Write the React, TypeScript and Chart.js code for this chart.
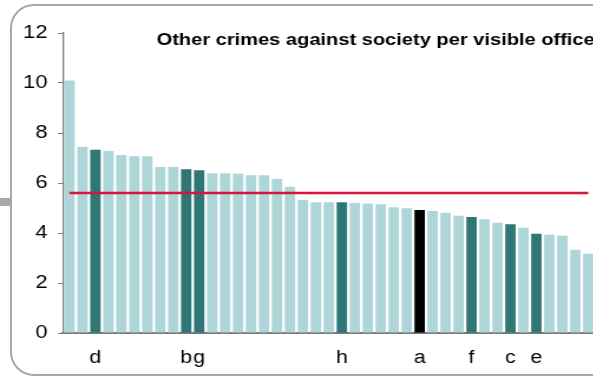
import React, { useEffect, useRef } from "react";
import { Chart, registerables } from "chart.js";

Chart.register(...registerables);

// ---- data ----
const CATEGORIES = [
  "", "", "d", "", "", "", "", "", "", "b", "g", "", "", "", "", "", "", "", "", "", "",
  "h", "", "", "", "", "", "a", "", "", "", "f", "", "", "c", "", "e", "", "", "", "",
];
const VALUES = [
  10.1, 7.44, 7.33, 7.28, 7.12, 7.07, 7.07, 6.64, 6.64, 6.55, 6.51, 6.39, 6.39, 6.37,
  6.31, 6.31, 6.16, 5.85, 5.33, 5.23, 5.23, 5.23, 5.2, 5.18, 5.15, 5.03, 4.99, 4.92,
  4.88, 4.81, 4.69, 4.64, 4.55, 4.41, 4.35, 4.21, 3.97, 3.93, 3.89, 3.33, 3.17,
];
const AVERAGE = 5.6;
const SELECTED = "a";
const Y_TICKS = [0, 2, 4, 6, 8, 10, 12];
const TITLE = "Other crimes against society per visible office";

// ---- style ----
const LIGHT = "#aed5d8";
const DARK = "#2f7777";
const BLACK = "#000000";
const RED = "#d4173d";
const AXIS = "#7a7a7a";
const FONT = "'Liberation Sans', Arial, Helvetica, sans-serif";
const SX = 1.18; // horizontal stretch of the original picture
const CW = 504; // canvas width before stretch
const CH = 376;

export default function App() {
  const ref = useRef<HTMLCanvasElement | null>(null);

  useEffect(() => {
    if (!ref.current) return;
    const colors = CATEGORIES.map((c) =>
      c === SELECTED ? BLACK : c ? DARK : LIGHT
    );
    const chart = new Chart(ref.current, {
      type: "bar",
      data: {
        labels: CATEGORIES,
        datasets: [
          {
            type: "line",
            data: CATEGORIES.map(() => AVERAGE),
            borderColor: RED,
            borderWidth: 2.5,
            pointRadius: 0,
            fill: false,
            order: 0,
          } as any,
          {
            type: "bar",
            data: VALUES,
            backgroundColor: colors,
            borderWidth: 0,
            barPercentage: 0.8,
            categoryPercentage: 1,
            order: 1,
          },
        ],
      },
      options: {
        animation: false,
        responsive: false,
        devicePixelRatio: 1,
        layout: { padding: 0 },
        plugins: {
          legend: { display: false },
          tooltip: { enabled: false },
          title: {
            display: true,
            text: TITLE,
            align: "end",
            color: "#000",
            font: { family: FONT, size: 17, weight: "bold" },
            padding: { top: 29.8, bottom: -17.2 },
          },
        },
        scales: {
          x: {
            type: "category",
            offset: true,
            grid: { display: false, drawTicks: false },
            border: { display: true, color: AXIS, width: 2 },
            ticks: {
              autoSkip: false,
              maxRotation: 0,
              minRotation: 0,
              padding: 14.5,
              color: "#000",
              font: { family: FONT, size: 18 },
            },
            afterFit: (s: any) => {
              s.height = 43;
              s.paddingLeft = 0;
              s.paddingRight = 0;
            },
          },
          y: {
            min: 0,
            max: 12,
            afterBuildTicks: (s: any) => {
              s.ticks = Y_TICKS.map((v) => ({ value: v }));
            },
            grid: {
              display: true,
              drawOnChartArea: false,
              drawTicks: true,
              tickLength: 4.2,
              color: AXIS,
              lineWidth: 1,
            },
            border: { display: true, color: AXIS, width: 1.3 },
            ticks: {
              padding: 9,
              color: "#000",
              font: { family: FONT, size: 18.5 },
            },
            afterFit: (s: any) => {
              s.width = 53.4;
            },
          },
        },
      },
    });
    return () => chart.destroy();
  }, []);

  return (
    <div
      style={{
        position: "fixed",
        left: 0,
        top: 0,
        width: 593,
        height: 376,
        overflow: "hidden",
        background: "#fff",
      }}
    >
      <div
        style={{
          position: "absolute",
          left: 0,
          top: 198,
          width: 11,
          height: 8,
          background: "#a8a8a8",
        }}
      />
      <div
        style={{
          position: "absolute",
          left: 10,
          top: 4,
          width: 680,
          height: 372,
          boxSizing: "border-box",
          border: "2px solid #a8a8a8",
          borderRadius: 24,
        }}
      />
      <div
        style={{
          position: "absolute",
          left: 0,
          top: 0,
          width: CW,
          height: CH,
          transform: `scaleX(${SX})`,
          transformOrigin: "0 0",
        }}
      >
        <canvas
          ref={ref}
          width={CW}
          height={CH}
          style={{ display: "block", width: CW, height: CH }}
        />
      </div>
    </div>
  );
}
